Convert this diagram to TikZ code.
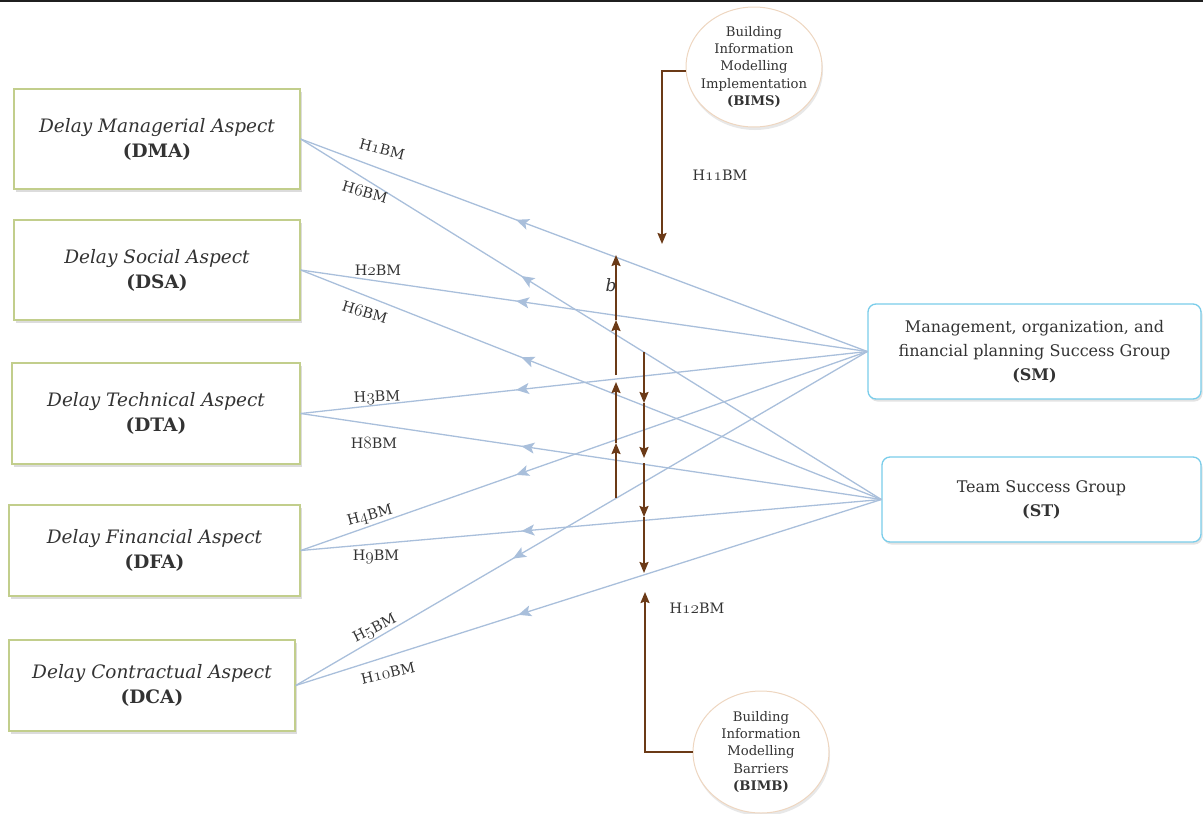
\documentclass[tikz,border=0pt]{standalone}
\usepackage{fontspec}
\setmainfont{DejaVu Serif}
\usetikzlibrary{arrows.meta,decorations.markings,shapes.geometric,shadows}
\definecolor{txt}{HTML}{333333}
\definecolor{aspectline}{HTML}{C2CE8C}
\definecolor{groupline}{HTML}{7ACDEA}
\definecolor{bimline}{HTML}{EED6C0}
\definecolor{linkblue}{HTML}{A9BFDB}
\definecolor{bimbrown}{HTML}{6B3A17}
% old-style figures taken from the math italic font, enlarged to suit the text face
\newcommand{\osf}[1]{{\fontsize{17.28}{18}\usefont{OML}{cmm}{m}{it}#1}}
% hypothesis label
\newcommand{\hyp}[1]{H\osf{#1}BM}
\begin{document}
\begin{tikzpicture}[x=1pt,y=-1pt,
  aspectbox/.style={draw=aspectline, line width=1.3pt, fill=white, align=center, text=txt,
    inner sep=0pt, font=\fontsize{18.5}{25}\selectfont,
    drop shadow={shadow xshift=1.5pt, shadow yshift=-2.5pt, opacity=0.28}},
  groupbox/.style={draw=groupline, line width=1.3pt, fill=white, rounded corners=8pt,
    align=center, text=txt, inner sep=0pt, font=\fontsize{16}{24}\selectfont,
    drop shadow={shadow xshift=1.5pt, shadow yshift=-2.5pt, opacity=0.22}},
  bimcircle/.style={ellipse, draw=bimline, line width=1pt, fill=white, align=center,
    text=txt, inner xsep=-14pt, inner ysep=0pt, font=\fontsize{13.2}{17.4}\selectfont,
    drop shadow={shadow xshift=1pt, shadow yshift=-3pt, opacity=0.18}},
  hlink/.style={draw=linkblue, line width=1.3pt, postaction={decorate},
    decoration={markings, mark=at position 0.62 with
      {\arrow{Stealth[length=13pt,width=11pt,inset=3pt]}}}},
  bimarrow/.style={draw=bimbrown, line width=1.8pt},
  brtip/.style={-{Stealth[length=11pt,width=9pt,inset=1.5pt]}},
  lbl/.style={font=\fontsize{14.4}{16}\selectfont, text=txt, inner sep=0pt},
]
\useasboundingbox (0,0) rectangle (1203,814);

% rule along the top edge
\draw[line width=1.6pt, black!88] (0,0.8) -- (1203,0.8);

% delay aspects
\node[aspectbox, minimum width=286pt, minimum height=100pt] (DMA) at (157,139)
  {\textit{Delay Managerial Aspect}\\\textbf{(DMA)}};
\node[aspectbox, minimum width=286pt, minimum height=100pt] (DSA) at (157,270)
  {\textit{Delay Social Aspect}\\\textbf{(DSA)}};
\node[aspectbox, minimum width=288pt, minimum height=101pt] (DTA) at (156,413.5)
  {\textit{Delay Technical Aspect}\\\textbf{(DTA)}};
\node[aspectbox, minimum width=291pt, minimum height=91pt] (DFA) at (154.5,550.5)
  {\textit{Delay Financial Aspect}\\\textbf{(DFA)}};
\node[aspectbox, minimum width=286pt, minimum height=91pt] (DCA) at (152,685.5)
  {\textit{Delay Contractual Aspect}\\\textbf{(DCA)}};

% success groups
\node[groupbox, minimum width=333pt, minimum height=95pt] (SM) at (1034.5,351.5)
  {Management, organization, and\\financial planning Success Group\\\textbf{(SM)}};
\node[groupbox, minimum width=319pt, minimum height=85pt] (ST) at (1041.5,499.5)
  {Team Success Group\\\textbf{(ST)}};

% BIM moderators
\node[bimcircle, minimum width=136pt, minimum height=120pt] (BIMS) at (754,67)
  {Building\\Information\\Modelling\\Implementation\\\textbf{(BIMS)}};
\node[bimcircle, minimum width=136pt, minimum height=122pt] (BIMB) at (761,752)
  {Building\\Information\\Modelling\\Barriers\\\textbf{(BIMB)}};

% hypothesised paths
\draw[hlink] (SM.west) -- (DMA.east);
\draw[hlink] (ST.west) -- (DMA.east);
\draw[hlink] (SM.west) -- (DSA.east);
\draw[hlink] (ST.west) -- (DSA.east);
\draw[hlink] (SM.west) -- (DTA.east);
\draw[hlink] (ST.west) -- (DTA.east);
\draw[hlink] (SM.west) -- (DFA.east);
\draw[hlink] (ST.west) -- (DFA.east);
\draw[hlink] (SM.west) -- (DCA.east);
\draw[hlink] (ST.west) -- (DCA.east);

% moderating arrows
\coordinate (bimsTip) at (662,244);
\coordinate (bimbTip) at (645,592);
\draw[bimarrow, brtip] ([yshift=-4pt]BIMS.west) -| (bimsTip);
\draw[bimarrow, brtip] (BIMB.west) -| (bimbTip);

\coordinate (u1) at (616,498);
\coordinate (u2) at (616,443);
\coordinate (u3) at (616,382);
\coordinate (u4) at (616,375);
\coordinate (u5) at (616,320);
\coordinate (u6) at (616,255);
\coordinate (d1) at (644,352);
\coordinate (d2) at (644,403);
\coordinate (d3) at (644,458);
\coordinate (d4) at (644,463);
\coordinate (d5) at (644,517);
\coordinate (d6) at (644,573);
\foreach \a/\b in {u1/u2,u2/u3,u4/u5,u5/u6,d1/d2,d2/d3,d4/d5,d5/d6}
  \draw[bimarrow, brtip] (\a) -- (\b);

% path labels
\node[lbl, rotate=-15] (l1) at (382,149) {\hyp{1}};
\node[lbl, rotate=-16] (l6a) at (365,192) {\hyp{6}};
\node[lbl] (l2) at (378,270) {\hyp{2}};
\node[lbl, rotate=-17] (l6b) at (365,312) {\hyp{6}};
\node[lbl, rotate=2] (l3) at (377,398) {\hyp{3}};
\node[lbl] (l8) at (374,443) {\hyp{8}};
\node[lbl, rotate=15] (l4) at (370,516) {\hyp{4}};
\node[lbl] (l9) at (376,557) {\hyp{9}};
\node[lbl, rotate=27] (l5) at (375,629) {\hyp{5}};
\node[lbl, rotate=13] (l10) at (388,673) {\hyp{10}};
\node[lbl] (l11) at (720,175) {\hyp{11}};
\node[lbl] (l12) at (697,608) {\hyp{12}};
\node[lbl, font=\fontsize{17}{20}\selectfont\itshape] (bl) at (611,285) {b};
\end{tikzpicture}
\end{document}
